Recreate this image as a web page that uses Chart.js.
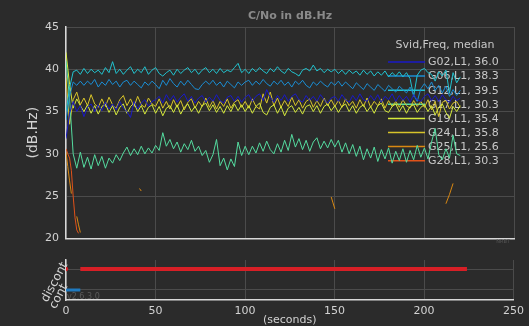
<!DOCTYPE html>
<html>
<head>
<meta charset="utf-8">
<script src="https://cdn.jsdelivr.net/npm/chart.js@4/dist/chart.umd.min.js"></script>
<style>
  html, body { margin: 0; padding: 0; background: #2b2b2b; }
  #wrap { position: relative; width: 529px; height: 326px; background: #2b2b2b; overflow: hidden; }
  #cnoChart { position: absolute; left: 0; top: 0; }
  #flagChart { position: absolute; left: 0; top: 252px; }
</style>
</head>
<body>
<div id="wrap">
  <canvas id="cnoChart" width="529" height="252"></canvas>
  <canvas id="flagChart" width="529" height="74"></canvas>
</div>
<script>
// ---------------------------------------------------------------------------
// C/No per satellite (dB.Hz), sampled every 2 s
// ---------------------------------------------------------------------------
const seconds = [
  0, 2, 4, 6, 8, 10, 12, 14, 16, 18, 20, 22, 24, 26, 28, 30, 32, 34, 36, 38,
  40, 42, 44, 46, 48, 50, 52, 54, 56, 58, 60, 62, 64, 66, 68, 70, 72, 74, 76, 78,
  80, 82, 84, 86, 88, 90, 92, 94, 96, 98, 100, 102, 104, 106, 108, 110, 112, 114, 116, 118,
  120, 122, 124, 126, 128, 130, 132, 134, 136, 138, 140, 142, 144, 146, 148, 150, 152, 154, 156, 158,
  160, 162, 164, 166, 168, 170, 172, 174, 176, 178, 180, 182, 184, 186, 188, 190, 192, 194, 196, 198,
  200, 202, 204, 206, 208, 210, 212, 214, 216, 218, 220
];

const g02 = [
  31.8, 34.8, 36.2, 35.0, 35.7,
  34.4, 35.5, 35.9, 35.0, 35.8, 35.1, 36.1, 35.3, 35.9, 35.2, 36.2, 35.4, 35.0, 34.3, 36.2, 35.3, 36.0, 36.4, 35.6, 36.2,
  36.4, 36.8, 36.0, 37.0, 36.3, 36.9, 36.1, 36.7, 37.1, 36.2, 36.8, 36.0, 36.6, 36.9, 36.1, 36.7, 36.2, 37.0, 36.3, 36.0, 36.7, 36.9, 36.2, 36.8, 36.1,
  36.7, 37.0, 36.2, 36.8, 37.1, 36.3, 37.6, 36.7, 36.1, 36.9, 36.3, 37.0, 36.2, 36.8, 37.1, 36.4, 36.1, 36.9, 36.3, 36.8, 36.2, 37.0, 36.4, 36.0, 36.6,
  36.8, 36.2, 37.0, 36.4, 36.1, 36.9, 36.3, 37.1, 36.4, 36.2, 36.9, 36.3, 37.0, 36.1, 36.8, 36.4, 37.1, 36.2, 36.9, 36.3, 36.8, 36.1, 37.0, 36.4, 36.2,
  36.8, 37.1, 36.3, 36.9, 36.2, 37.0, 36.4, 36.1, 36.8, 36.3, 36.6
];

const g06 = [
  34.0, 36.8, 38.5, 38.1, 38.6,
  38.1, 38.6, 38.2, 38.8, 37.9, 38.5, 38.1, 38.8, 38.2, 38.6, 37.9, 38.5, 38.7, 38.1, 38.6, 38.2, 37.8, 38.5, 38.1, 38.6,
  38.2, 37.7, 38.7, 38.1, 38.9, 38.3, 37.9, 38.6, 38.1, 38.7, 38.2, 37.7, 37.6, 38.2, 38.6, 38.2, 38.7, 38.1, 38.5, 37.9, 38.6, 38.2, 37.8, 38.5, 38.1,
  38.5, 38.7, 38.1, 38.6, 38.2, 38.8, 38.3, 38.0, 38.6, 38.2, 38.7, 38.1, 38.5, 37.9, 38.6, 38.2, 38.7, 38.1, 37.8, 38.5, 38.1, 38.6, 38.2, 37.9, 38.5,
  38.1, 38.6, 38.0, 38.5, 38.1, 37.7, 38.4, 38.0, 37.6, 38.3, 37.9, 37.5, 38.2, 37.8, 37.4, 38.1, 37.7, 37.3, 38.0, 37.6, 37.2, 37.9, 37.0, 36.2, 37.7,
  38.3, 37.7, 38.5, 37.5, 38.1, 37.2, 38.0, 36.8, 37.6, 36.9, 37.5
];

const g12 = [
  35.0, 37.8, 39.7, 39.9, 39.4,
  40.1, 39.5, 40.0, 39.6, 39.9, 39.4, 40.2, 39.6, 40.9, 39.5, 40.0, 39.4, 39.9, 40.3, 39.5, 40.0, 39.6, 40.3, 39.4, 39.9,
  40.2, 39.5, 39.2, 39.6, 39.9, 39.3, 40.0, 39.5, 39.9, 40.2, 39.6, 40.0, 39.4, 39.9, 40.2, 39.6, 40.0, 39.5, 40.1, 39.6, 39.9, 39.7, 40.2, 40.7, 39.6,
  40.0, 39.5, 40.1, 39.7, 40.2, 39.8, 39.5, 40.1, 39.7, 40.3, 39.8, 39.5, 40.1, 39.7, 39.5, 39.2, 39.9, 40.1, 39.8, 40.5, 39.8, 40.1, 39.6, 40.0, 39.7,
  40.0, 39.5, 39.9, 39.4, 39.9, 39.5, 39.8, 39.3, 39.9, 39.4, 39.8, 39.2, 39.7, 39.3, 39.8, 39.1, 39.6, 39.2, 39.7, 39.1, 39.6, 38.9, 36.8, 39.3, 39.9,
  40.1, 39.6, 39.4, 38.6, 39.7, 39.2, 39.9, 37.2, 39.6, 38.4, 39.1
];

const g17 = [
  41.0, 36.5, 30.0, 28.3, 30.2,
  28.4, 29.6, 28.2, 29.9, 28.6, 29.7, 28.3, 29.5, 28.9, 29.9, 29.2, 30.1, 30.8, 29.8, 30.6, 29.9, 30.9, 30.0, 30.7, 30.1,
  31.0, 30.4, 32.5, 30.9, 31.7, 30.6, 31.4, 30.2, 31.2, 30.5, 31.6, 30.3, 30.9, 29.8, 30.4, 29.0, 29.9, 31.7, 28.6, 29.5, 28.1, 29.4, 28.5, 31.4, 29.8,
  30.9, 29.9, 30.9, 30.1, 31.3, 30.3, 31.5, 30.5, 30.0, 31.2, 30.2, 31.6, 30.4, 32.3, 30.8, 31.8, 30.5, 31.6, 30.3, 31.4, 31.9, 30.6, 31.5, 30.7, 31.7,
  30.8, 31.6, 30.2, 31.3, 30.0, 31.1, 29.7, 30.9, 29.3, 30.6, 29.5, 30.8, 29.1, 30.5, 29.4, 30.7, 28.9, 30.3, 29.2, 30.6, 29.0, 30.4, 29.3, 31.0, 29.6,
  30.7, 29.4, 31.4, 33.0, 29.9, 29.3, 30.6, 29.5, 32.2, 30.0, 29.8
];

const g19 = [
  42.0, 38.2, 35.4, 36.5, 35.7,
  35.0, 35.8, 34.8, 35.7, 34.7, 35.6, 35.9, 34.9, 35.7, 34.6, 35.5, 35.9, 34.8, 35.6, 36.0, 35.0, 35.7, 34.7, 35.5, 35.8,
  34.8, 35.6, 34.5, 35.4, 35.7, 34.9, 35.8, 34.7, 35.5, 35.9, 35.0, 35.6, 34.8, 35.7, 36.0, 35.1, 35.8, 34.9, 35.6, 34.8, 35.7, 35.0, 35.9, 35.1, 35.8,
  35.0, 35.7, 34.8, 35.6, 36.0, 34.9, 34.6, 35.5, 35.8, 34.8, 35.6, 34.5, 35.4, 35.7, 34.9, 35.5, 34.7, 35.6, 35.8, 35.0, 35.7, 34.8, 35.6, 35.9, 35.1,
  35.7, 34.9, 35.6, 35.9, 35.0, 35.7, 34.8, 35.5, 35.8, 35.0, 35.6, 34.8, 35.7, 36.0, 35.1, 34.9, 35.6, 35.9, 35.0, 35.7, 34.8, 35.6, 35.8, 34.9, 35.5,
  35.8, 35.0, 35.7, 34.6, 35.5, 35.9, 34.9, 34.2, 35.6, 35.0, 35.7
];

const g24 = [
  39.0, 33.5, 36.4, 37.3, 35.8,
  36.6, 35.7, 37.0, 35.9, 35.5, 36.5, 35.6, 36.7, 35.8, 35.4, 36.4, 36.9, 35.7, 36.5, 35.6, 36.8, 35.8, 35.5, 36.6, 35.9,
  35.6, 36.5, 35.4, 36.2, 35.3, 36.4, 35.5, 36.3, 35.2, 36.1, 36.5, 35.4, 36.2, 35.6, 36.6, 35.5, 36.3, 35.3, 36.2, 35.6, 36.5, 35.4, 36.1, 36.4, 35.5,
  36.2, 35.4, 36.5, 35.6, 35.3, 37.1, 36.0, 37.3, 35.7, 36.6, 35.5, 36.3, 35.6, 36.7, 35.7, 36.4, 35.4, 36.2, 36.5, 35.5, 36.3, 35.6, 36.6, 35.7, 36.4,
  35.6, 36.3, 35.5, 36.5, 35.7, 36.2, 35.4, 36.4, 35.6, 36.6, 35.5, 36.2, 35.7, 36.5, 35.4, 36.3, 35.6, 36.2, 35.5, 36.4, 35.7, 35.4, 36.3, 35.6, 36.2,
  35.5, 36.4, 35.2, 36.2, 34.4, 36.1, 36.3, 35.3, 36.0, 36.2, 35.5
];

// weak signals, only tracked in short pieces (null = no track)
const g25Seconds = [0, 1, 2, 3, 4, 5, 6, 7, 8, 9, 41, 42, 43, 147, 148, 149, 150, 151, 211, 212, 214, 216];
const g25 = [30.2, 28.5, 26.8, 25.3, null, null, 22.6, 21.6, 20.7, null, 25.9, 25.6, null, null, 24.9, 24.2, 23.5, null, null, 24.1, 25.2, 26.5];
const g28Seconds = [0, 1, 2, 3, 4, 5, 6, 7];
const g28 = [30.6, 30.0, 29.5, 28.0, 25.0, 22.5, 21.0, 20.6];

const svids = ['G02,L1, 36.0', 'G06,L1, 38.3', 'G12,L1, 39.5', 'G17,L1, 30.3', 'G19,L1, 35.4', 'G24,L1, 35.8', 'G25,L1, 25.6', 'G28,L1, 30.3'];
const svidColors = ['#1a1ac8', '#1b8ed4', '#22c3cf', '#55dca0', '#d6ea3c', '#d8c42a', '#d98812', '#e0521a'];

const yTicks = [20, 25, 30, 35, 40, 45];
const xTicks = [0, 50, 100, 150, 200, 250];

// continuity flags (1 = discont, 0 = cont)
const contSeconds = [0, 8];
const discontSeconds = [8, 224];
const discontStartSecond = 0;

const FONT = '"DejaVu Sans", "Liberation Sans", sans-serif';
const GRID = '#4b4b4b';
const SPINE = '#d8d8d8';
const TICK_TXT = '#d2d2d2';

function pts(xs, ys) {
  return xs.map((x, i) => ({ x: x, y: ys[i] }));
}

const series = [g02, g06, g12, g17, g19, g24];
const datasets = series.map((vals, i) => ({
  label: svids[i],
  data: pts(seconds, vals),
  borderColor: svidColors[i],
  borderWidth: 1,
  pointRadius: 0,
  tension: 0
}));
datasets.push({ label: svids[6], data: pts(g25Seconds, g25), borderColor: svidColors[6], borderWidth: 1, pointRadius: 0, spanGaps: false });
datasets.push({ label: svids[7], data: pts(g28Seconds, g28), borderColor: svidColors[7], borderWidth: 1, pointRadius: 0 });

// title over the plot area + legend inside the plot
const cnoDecor = {
  id: 'cnoDecor',
  beforeDatasetsDraw(chart) {
    const ctx = chart.ctx;
    const x0 = 388, x1 = 425, tx = 428;
    ctx.save();
    ctx.font = '11px ' + FONT;
    ctx.fillStyle = '#c8c8c8';
    ctx.textBaseline = 'middle';
    ctx.textAlign = 'center';
    ctx.fillText('Svid,Freq, median', 445, 45);
    ctx.textAlign = 'left';
    svids.forEach((s, i) => {
      const y = 62 + i * 14.1;
      ctx.strokeStyle = svidColors[i];
      ctx.lineWidth = 1.5;
      ctx.beginPath();
      ctx.moveTo(x0, y);
      ctx.lineTo(x1, y);
      ctx.stroke();
      ctx.fillStyle = '#c8c8c8';
      ctx.fillText(s, tx, y + 0.5);
    });
    ctx.restore();
  },
  afterDraw(chart) {
    const ctx = chart.ctx;
    const a = chart.chartArea;
    ctx.save();
    ctx.font = 'bold 11px ' + FONT;
    ctx.fillStyle = '#8a8a8a';
    ctx.textAlign = 'center';
    ctx.textBaseline = 'middle';
    ctx.fillText('C/No in dB.Hz', (a.left + a.right) / 2, 16);
    ctx.font = '5px ' + FONT;
    ctx.fillStyle = '#555555';
    ctx.textAlign = 'right';
    ctx.fillText('NRBT', a.right - 4, a.bottom + 3);
    ctx.restore();
  }
};

new Chart(document.getElementById('cnoChart'), {
  type: 'line',
  data: { datasets: datasets },
  options: {
    responsive: false,
    animation: false,
    devicePixelRatio: 1,
    layout: { padding: { left: 0, right: 15, top: 27, bottom: 9 } },
    plugins: { legend: { display: false }, tooltip: { enabled: false } },
    scales: {
      x: {
        type: 'linear', min: 0, max: 250,
        afterBuildTicks: s => { s.ticks = xTicks.map(v => ({ value: v })); },
        ticks: { display: false },
        grid: { color: GRID, drawTicks: false },
        border: { color: SPINE, width: 1.5 },
        afterFit: s => { s.height = 0; }
      },
      y: {
        type: 'linear', min: 20, max: 45,
        afterBuildTicks: s => { s.ticks = yTicks.map(v => ({ value: v })); },
        ticks: { color: TICK_TXT, font: { size: 11, family: FONT }, padding: 7 },
        grid: { color: GRID, drawTicks: false },
        border: { color: SPINE, width: 1.5 },
        title: { display: true, text: '(dB.Hz)', color: TICK_TXT, font: { size: 14, family: FONT }, padding: { top: 25, bottom: 0 } },
        afterFit: s => { s.width = 66; }
      }
    }
  },
  plugins: [cnoDecor]
});

// lower strip: cont / discont flags
const flagDecor = {
  id: 'flagDecor',
  afterDraw(chart) {
    const ctx = chart.ctx;
    const y = chart.scales.y;
    ctx.save();
    ctx.font = '12px ' + FONT;
    ctx.fillStyle = TICK_TXT;
    ctx.textAlign = 'right';
    ctx.textBaseline = 'middle';
    [['discont', 1, -6], ['cont', 0, -5]].forEach(([txt, v, dy]) => {
      ctx.save();
      ctx.translate(65, y.getPixelForValue(v) + dy);
      ctx.rotate(-62 * Math.PI / 180);
      ctx.fillText(txt, 0, 0);
      ctx.restore();
    });
    ctx.font = '8px ' + FONT;
    ctx.fillStyle = '#5a5a5a';
    ctx.textAlign = 'left';
    ctx.fillText('v2.6.3.0', 67, 45);
    ctx.restore();
  }
};

new Chart(document.getElementById('flagChart'), {
  type: 'line',
  data: {
    datasets: [
      { data: pts(discontSeconds, [1, 1]), borderColor: '#d71f26', borderWidth: 4, pointRadius: 0 },
      { data: [{ x: discontStartSecond, y: 1 }], borderColor: '#d71f26', backgroundColor: '#d71f26', pointRadius: 1.8, showLine: false },
      { data: pts(contSeconds, [0, 0]), borderColor: '#1f7ac0', borderWidth: 3, pointRadius: 0 }
    ]
  },
  options: {
    responsive: false,
    animation: false,
    devicePixelRatio: 1,
    layout: { padding: { left: 0, right: 15, top: 8, bottom: 0 } },
    plugins: { legend: { display: false }, tooltip: { enabled: false } },
    scales: {
      x: {
        type: 'linear', min: 0, max: 250,
        afterBuildTicks: s => { s.ticks = xTicks.map(v => ({ value: v })); },
        ticks: { color: TICK_TXT, font: { size: 11, family: FONT }, padding: 5, maxRotation: 0 },
        grid: { color: GRID, drawTicks: false },
        border: { color: SPINE, width: 1.5 },
        title: { display: true, text: '(seconds)', color: TICK_TXT, font: { size: 11, family: FONT, lineHeight: 1 }, padding: { top: 0, bottom: 0 } },
        afterFit: s => { s.height = 26; }
      },
      y: {
        type: 'linear', min: -0.48, max: 1.43,
        afterBuildTicks: s => { s.ticks = [{ value: 0 }, { value: 1 }]; },
        ticks: { display: false },
        grid: { color: GRID, drawTicks: false },
        border: { color: SPINE, width: 1.5 },
        afterFit: s => { s.width = 66; }
      }
    }
  },
  plugins: [flagDecor]
});
</script>
</body>
</html>
